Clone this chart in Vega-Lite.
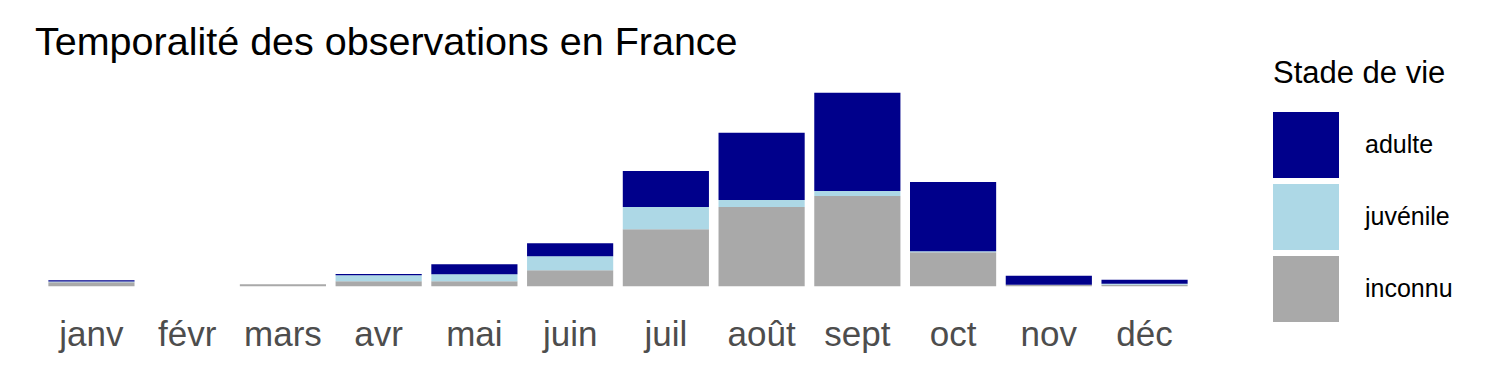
{
  "$schema": "https://vega.github.io/schema/vega-lite/v6.json",
  "autosize": {"type": "none"},
  "padding": {"left": 34, "top": 83, "right": 298, "bottom": 79},
  "width": 1168,
  "height": 213,
  "background": "white",
  "config": {
    "view": {"stroke": null},
    "font": "Liberation Sans"
  },
  "title": {
    "text": "Temporalité des observations en France",
    "anchor": "start",
    "frame": "group",
    "fontSize": 39.5,
    "fontWeight": "normal",
    "color": "black",
    "font": "Liberation Sans",
    "baseline": "alphabetic",
    "offset": -35,
    "dx": 1
  },
  "data": {
    "values": [
      {"mois": "janv", "stade": "inconnu", "n": 4},
      {"mois": "janv", "stade": "juvénile", "n": 0.7},
      {"mois": "janv", "stade": "adulte", "n": 1.3},
      {"mois": "mars", "stade": "inconnu", "n": 2},
      {"mois": "avr", "stade": "inconnu", "n": 5},
      {"mois": "avr", "stade": "juvénile", "n": 6},
      {"mois": "avr", "stade": "adulte", "n": 1.3},
      {"mois": "mai", "stade": "inconnu", "n": 5},
      {"mois": "mai", "stade": "juvénile", "n": 7},
      {"mois": "mai", "stade": "adulte", "n": 10},
      {"mois": "juin", "stade": "inconnu", "n": 16},
      {"mois": "juin", "stade": "juvénile", "n": 14},
      {"mois": "juin", "stade": "adulte", "n": 13},
      {"mois": "juil", "stade": "inconnu", "n": 57},
      {"mois": "juil", "stade": "juvénile", "n": 22},
      {"mois": "juil", "stade": "adulte", "n": 36},
      {"mois": "août", "stade": "inconnu", "n": 79},
      {"mois": "août", "stade": "juvénile", "n": 7},
      {"mois": "août", "stade": "adulte", "n": 67},
      {"mois": "sept", "stade": "inconnu", "n": 90},
      {"mois": "sept", "stade": "juvénile", "n": 5},
      {"mois": "sept", "stade": "adulte", "n": 98},
      {"mois": "oct", "stade": "inconnu", "n": 34},
      {"mois": "oct", "stade": "juvénile", "n": 1},
      {"mois": "oct", "stade": "adulte", "n": 69},
      {"mois": "nov", "stade": "inconnu", "n": 1.5},
      {"mois": "nov", "stade": "adulte", "n": 9},
      {"mois": "déc", "stade": "inconnu", "n": 1.5},
      {"mois": "déc", "stade": "juvénile", "n": 1},
      {"mois": "déc", "stade": "adulte", "n": 4}
    ]
  },
  "mark": {"type": "bar"},
  "encoding": {
    "x": {
      "field": "mois",
      "type": "nominal",
      "sort": ["janv", "févr", "mars", "avr", "mai", "juin", "juil", "août", "sept", "oct", "nov", "déc"],
      "scale": {
        "domain": ["janv", "févr", "mars", "avr", "mai", "juin", "juil", "août", "sept", "oct", "nov", "déc"],
        "paddingInner": 0.1,
        "paddingOuter": 0.15
      },
      "axis": {
        "title": null,
        "domain": false,
        "ticks": false,
        "grid": false,
        "labelAngle": 0,
        "labelFontSize": 35,
        "labelColor": "#4d4d4d",
        "labelFont": "Liberation Sans",
        "labelPadding": 21
      }
    },
    "y": {
      "field": "n",
      "type": "quantitative",
      "stack": "zero",
      "scale": {"domain": [-9.65, 202.65], "nice": false, "zero": false},
      "axis": null
    },
    "color": {
      "field": "stade",
      "type": "nominal",
      "scale": {
        "domain": ["adulte", "juvénile", "inconnu"],
        "range": ["#00008B", "#ADD8E6", "#A9A9A9"]
      },
      "legend": {
        "title": "Stade de vie",
        "orient": "none",
        "legendX": 1239,
        "legendY": -24,
        "padding": 0,
        "titleFontSize": 31,
        "titleFontWeight": "normal",
        "titleColor": "black",
        "titleFont": "Liberation Sans",
        "titlePadding": 22,
        "symbolType": "square",
        "symbolSize": 4356,
        "symbolStrokeWidth": 0,
        "symbolOpacity": 1,
        "rowPadding": 6,
        "labelFontSize": 25,
        "labelColor": "black",
        "labelFont": "Liberation Sans",
        "labelOffset": 26
      }
    },
    "order": {"field": "mois", "type": "ordinal"}
  }
}
